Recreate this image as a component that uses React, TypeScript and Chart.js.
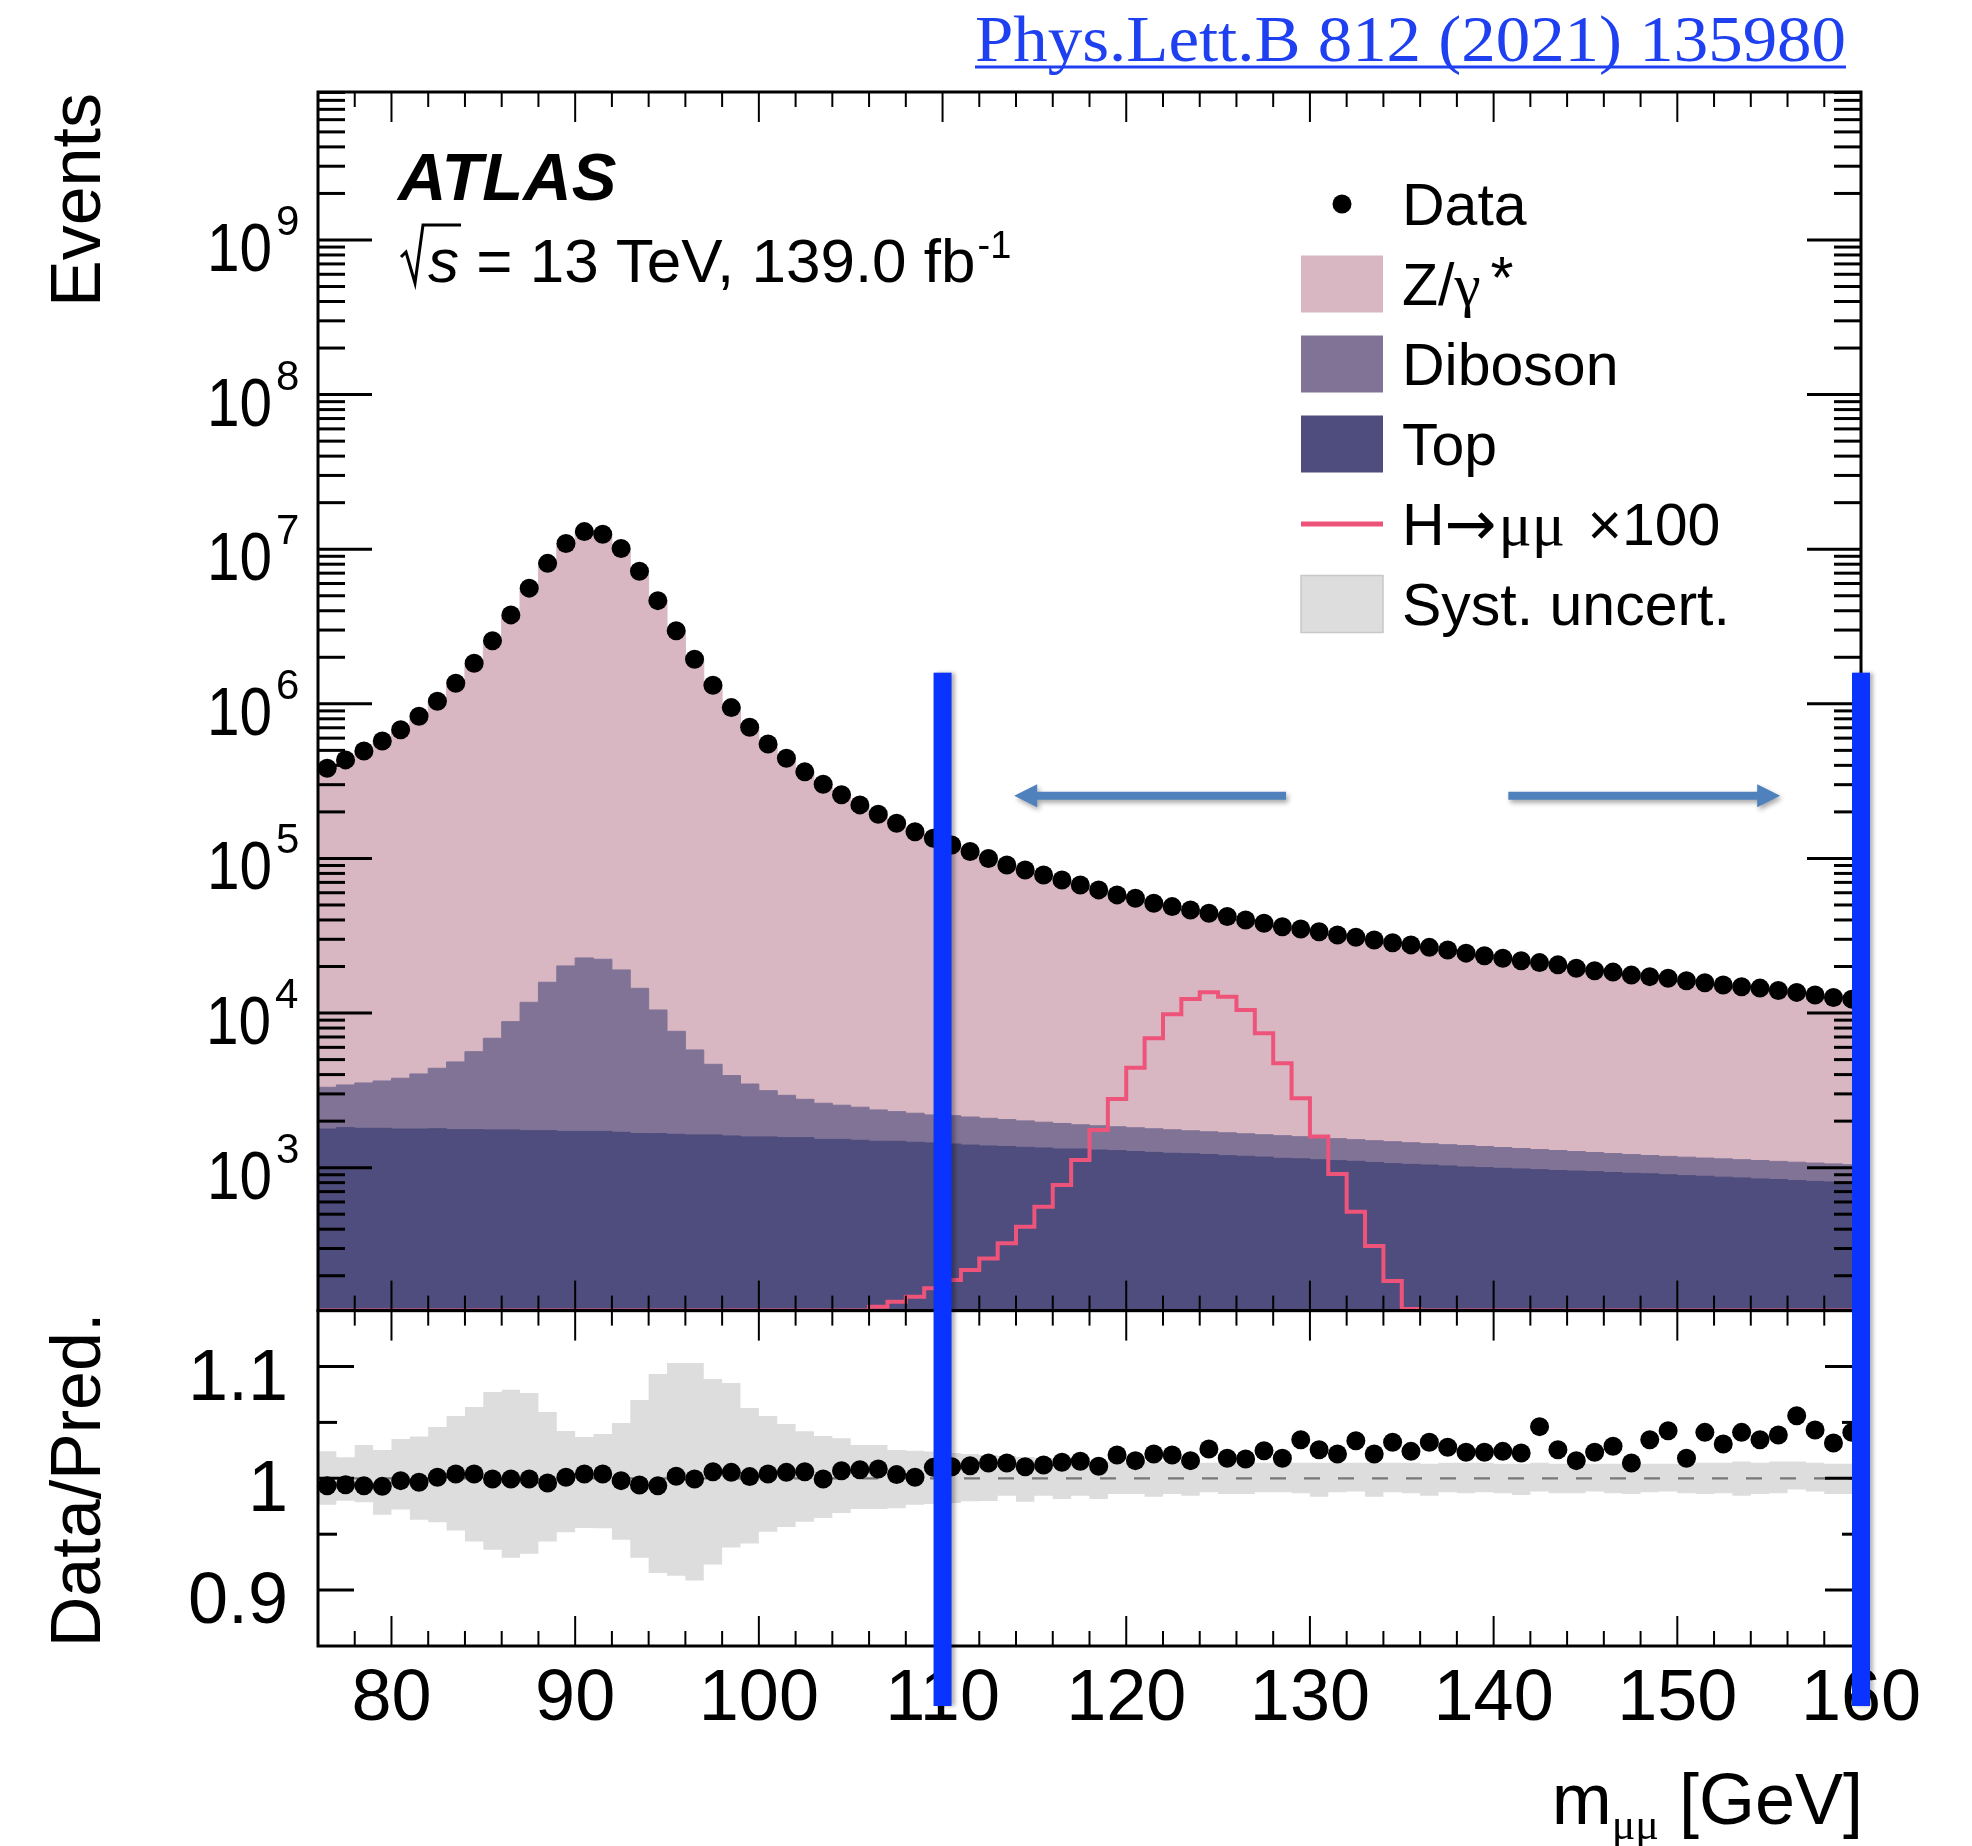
import React, { useEffect, useRef } from "react";
import { Chart, registerables } from "chart.js";

Chart.register(...registerables);

// ---------------- data ----------------
const binLow = [76, 77, 78, 79, 80, 81, 82, 83, 84, 85, 86, 87, 88, 89, 90, 91, 92, 93, 94, 95, 96, 97, 98, 99, 100, 101, 102, 103, 104, 105, 106, 107, 108, 109, 110, 111, 112, 113, 114, 115, 116, 117, 118, 119, 120, 121, 122, 123, 124, 125, 126, 127, 128, 129, 130, 131, 132, 133, 134, 135, 136, 137, 138, 139, 140, 141, 142, 143, 144, 145, 146, 147, 148, 149, 150, 151, 152, 153, 154, 155, 156, 157, 158, 159];
const BIN_WIDTH = 1;

const dataEvents = [383000, 434000, 495000, 575000, 680000, 830000, 1040000, 1360000, 1830000, 2560000, 3760000, 5600000, 8100000, 10900000, 13000000, 12500000, 10100000, 7200000, 4650000, 2970000, 1940000, 1320000, 945000, 706000, 550000, 445000, 363000, 302000, 258000, 222000, 193000, 169000, 149000, 135000, 122000, 111000, 100000, 90800, 84300, 78200, 72600, 67400, 62600, 58100, 55300, 51300, 48800, 46400, 44200, 42100, 40000, 38100, 36200, 35000, 33600, 32000, 30900, 29700, 28500, 27600, 26600, 25600, 24400, 23500, 22600, 21800, 21200, 20500, 19500, 18800, 18400, 17600, 17200, 16800, 16200, 15700, 15200, 14800, 14500, 14000, 13600, 13100, 12600, 12300];

const zgamma = [382000, 433000, 495000, 576000, 678000, 829000, 1035000, 1350000, 1817000, 2555000, 3753000, 5592000, 8118000, 10870000, 12928000, 12430000, 10102000, 7229000, 4670000, 2957000, 1935000, 1308000, 936100, 701500, 544800, 439700, 358100, 299600, 253700, 217800, 189000, 166100, 146600, 131500, 118600, 107600, 96560, 87530, 81430, 75310, 69650, 64500, 60070, 55080, 52630, 48430, 46050, 43950, 41370, 39680, 37660, 35550, 33950, 32250, 31200, 29780, 28380, 27580, 26140, 25500, 24340, 23500, 22450, 21600, 20720, 19990, 18960, 18700, 17930, 17120, 16660, 16150, 15430, 14930, 14750, 13930, 13610, 13090, 12900, 12380, 11790, 11490, 11160, 10770];

const diboson = [1533, 1613, 1734, 1840, 2010, 2262, 2608, 3067, 3864, 5116, 7045, 10005, 14085, 18452, 21002, 20562, 17317, 12800, 8810, 5979, 4144, 3035, 2336, 1895, 1568, 1374, 1204, 1086, 1011, 958, 880, 821, 789, 749, 746, 727, 705, 676, 653, 629, 610, 573, 566, 550, 541, 529, 519, 502, 491, 485, 471, 462, 461, 446, 438, 430, 418, 414, 411, 400, 389, 382, 380, 369, 359, 348, 339, 332, 321, 310, 303, 295, 286, 283, 281, 274, 272, 268, 267, 260, 259, 256, 250, 245];

const topQuark = [1778, 1815, 1797, 1797, 1778, 1778, 1786, 1762, 1762, 1754, 1754, 1735, 1735, 1718, 1718, 1718, 1693, 1660, 1660, 1643, 1628, 1628, 1603, 1580, 1580, 1564, 1564, 1524, 1524, 1503, 1482, 1482, 1460, 1445, 1422, 1400, 1381, 1370, 1354, 1340, 1321, 1321, 1300, 1288, 1270, 1255, 1239, 1230, 1215, 1196, 1185, 1170, 1149, 1140, 1125, 1110, 1099, 1080, 1061, 1050, 1040, 1026, 1010, 1000, 990, 981, 970, 958, 950, 942, 930, 920, 912, 900, 888, 880, 868, 858, 845, 838, 826, 815, 808, 800];

// H->mumu x100 ; 0 = below the plotted range
const higgsX100 = [0, 0, 0, 0, 0, 0, 0, 0, 0, 0, 0, 0, 0, 0, 0, 0, 0, 0, 0, 0, 0, 0, 0, 0, 0, 0, 0, 0, 0, 118, 126, 136, 146, 166, 188, 218, 259, 324, 415, 559, 773, 1122, 1754, 2782, 4433, 6875, 9820, 12330, 13640, 12770, 10470, 7396, 4733, 2811, 1588, 910, 519, 312, 185, 122, 0, 0, 0, 0, 0, 0, 0, 0, 0, 0, 0, 0, 0, 0, 0, 0, 0, 0, 0, 0, 0, 0, 0, 0];

const ratio = [0.9934, 0.9943, 0.9934, 0.9928, 0.9979, 0.9964, 1.0009, 1.0038, 1.0038, 0.9994, 0.9994, 0.9994, 0.9958, 1.0009, 1.0038, 1.0038, 0.9979, 0.994, 0.9934, 1.0018, 0.9994, 1.0059, 1.0053, 1.0015, 1.0038, 1.0053, 1.0059, 0.9994, 1.0068, 1.0077, 1.0083, 1.0033, 1.0009, 1.0098, 1.0104, 1.0113, 1.0137, 1.0137, 1.0104, 1.0119, 1.0143, 1.0152, 1.0107, 1.0208, 1.0158, 1.0217, 1.0208, 1.0158, 1.0262, 1.0179, 1.0173, 1.0247, 1.0179, 1.0345, 1.0256, 1.0217, 1.0336, 1.0217, 1.0322, 1.0241, 1.0322, 1.0277, 1.0233, 1.0233, 1.0241, 1.0227, 1.0462, 1.0256, 1.0158, 1.0233, 1.0286, 1.0137, 1.0345, 1.0426, 1.0179, 1.0411, 1.0307, 1.0411, 1.0345, 1.0387, 1.056, 1.0432, 1.0316, 1.0411];

const systUp = [0.0242, 0.0188, 0.0298, 0.0253, 0.0352, 0.0373, 0.0459, 0.0558, 0.0638, 0.0772, 0.0793, 0.0763, 0.0593, 0.0423, 0.037, 0.0397, 0.0495, 0.0701, 0.0933, 0.1032, 0.1032, 0.0888, 0.0853, 0.0629, 0.0558, 0.0486, 0.042, 0.0379, 0.0358, 0.0298, 0.0298, 0.0253, 0.0247, 0.0239, 0.0227, 0.0218, 0.0209, 0.02, 0.019, 0.018, 0.017, 0.017, 0.016, 0.015, 0.015, 0.015, 0.015, 0.015, 0.014, 0.014, 0.014, 0.014, 0.014, 0.014, 0.014, 0.014, 0.014, 0.014, 0.014, 0.014, 0.013, 0.014, 0.014, 0.014, 0.013, 0.013, 0.014, 0.013, 0.013, 0.013, 0.013, 0.014, 0.013, 0.013, 0.013, 0.014, 0.014, 0.015, 0.014, 0.015, 0.015, 0.014, 0.013, 0.013];

const systDown = [0.0236, 0.02, 0.0215, 0.0325, 0.028, 0.037, 0.0394, 0.0468, 0.0566, 0.0638, 0.071, 0.0674, 0.0566, 0.0483, 0.0444, 0.0447, 0.0549, 0.071, 0.0847, 0.0871, 0.0915, 0.0772, 0.062, 0.0584, 0.0477, 0.0435, 0.0388, 0.0355, 0.031, 0.0274, 0.0274, 0.0268, 0.0236, 0.023, 0.0221, 0.0206, 0.0203, 0.0155, 0.0209, 0.0155, 0.0185, 0.0155, 0.0185, 0.014, 0.014, 0.0164, 0.014, 0.0155, 0.0125, 0.014, 0.014, 0.0125, 0.0125, 0.0134, 0.0164, 0.0125, 0.0119, 0.0164, 0.0125, 0.0134, 0.0155, 0.0125, 0.0134, 0.0125, 0.0134, 0.0149, 0.0119, 0.0134, 0.0134, 0.0119, 0.0134, 0.014, 0.0125, 0.0119, 0.0134, 0.014, 0.0134, 0.0155, 0.014, 0.0134, 0.0101, 0.0119, 0.014, 0.014];

const xTickValues = [80, 90, 100, 110, 120, 130, 140, 150, 160];
const xTickLabels = ["80", "90", "100", "110", "120", "130", "140", "150", "160"];
const yDecadeExponents = [3, 4, 5, 6, 7, 8, 9];
const ratioMajorTicks = [0.9, 1, 1.1];
const ratioTickLabels = ["0.9", "1", "1.1"];
const ratioMinorTicks = [0.95, 1.05];

const cutValues = [110, 160];
const CUT_TOP = 1.59e6;
const arrowLeft = [128.7, 113.9];
const arrowRight = [140.8, 155.6];
const ARROW_Y = 2.54e5;

// axis ranges
const X_MIN = 76, X_MAX = 160;
const Y_MIN = 119, Y_MAX = 9.06e9;
const R_MIN = 0.85, R_MAX = 1.15;

// ---------------- layout / style ----------------
const W = 1972, H = 1846;
const FRAME_L = 318, FRAME_R = 1861, FRAME_T = 92, SPLIT = 1310.6, FRAME_B = 1646;
const SANS = "'Liberation Sans', Arial, Helvetica, sans-serif";
const SERIF = "'Liberation Serif', 'DejaVu Serif', 'Times New Roman', serif";
const COL_Z = "#d8b7c3";
const COL_DIB = "#817396";
const COL_TOP = "#4e4d7d";
const COL_H = "#ee547a";
const COL_SYST = "#dddddd";
const COL_CUT = "#0a33ff";
const COL_ARROW = "#4f81bd";

function stepPoints(vals: number[], floor = 0) {
  const pts = vals.map((v, i) => ({ x: binLow[i], y: Math.max(v, floor) }));
  const last = vals.length - 1;
  pts.push({ x: binLow[last] + BIN_WIDTH, y: Math.max(vals[last], floor) });
  return pts;
}

function line(ctx: CanvasRenderingContext2D, x1: number, y1: number, x2: number, y2: number) {
  ctx.beginPath();
  ctx.moveTo(x1, y1);
  ctx.lineTo(x2, y2);
  ctx.stroke();
}

function drawArrow(ctx: CanvasRenderingContext2D, xTail: number, xTip: number, y: number) {
  const dir = Math.sign(xTip - xTail);
  const headLen = 23, headHalf = 11.5, shaftHalf = 4;
  const xBase = xTip - dir * headLen;
  ctx.save();
  ctx.shadowColor = "rgba(0,0,0,0.35)";
  ctx.shadowBlur = 5;
  ctx.shadowOffsetX = 2;
  ctx.shadowOffsetY = 3;
  ctx.fillStyle = COL_ARROW;
  ctx.beginPath();
  ctx.moveTo(xTail, y - shaftHalf);
  ctx.lineTo(xBase, y - shaftHalf);
  ctx.lineTo(xBase, y - headHalf);
  ctx.lineTo(xTip, y);
  ctx.lineTo(xBase, y + headHalf);
  ctx.lineTo(xBase, y + shaftHalf);
  ctx.lineTo(xTail, y + shaftHalf);
  ctx.closePath();
  ctx.fill();
  ctx.restore();
}

function drawXTicks(ctx: CanvasRenderingContext2D, xs: any, t: number, b: number) {
  ctx.strokeStyle = "#000";
  ctx.lineWidth = 2;
  for (let v = X_MIN + 2; v < X_MAX; v += 2) {
    const p = xs.getPixelForValue(v);
    const len = v % 10 === 0 ? 30 : 15;
    line(ctx, p, t, p, t + len);
    line(ctx, p, b, p, b - len);
  }
}

const mainDecor = {
  id: "mainDecor",
  afterDraw(chart: any) {
    const ctx: CanvasRenderingContext2D = chart.ctx;
    const { left, right, top, bottom } = chart.chartArea;
    const xs = chart.scales.x, ys = chart.scales.y;
    ctx.save();

    // arrows (annotation)
    const ay = ys.getPixelForValue(ARROW_Y);
    drawArrow(ctx, xs.getPixelForValue(arrowLeft[0]), xs.getPixelForValue(arrowLeft[1]), ay);
    drawArrow(ctx, xs.getPixelForValue(arrowRight[0]), xs.getPixelForValue(arrowRight[1]), ay);

    // frame
    ctx.strokeStyle = "#000";
    ctx.lineWidth = 3;
    ctx.strokeRect(left, top, right - left, bottom - top);

    // y ticks (log)
    ctx.lineWidth = 3;
    for (let k = 2; k <= 9; k++) {
      for (let m = 1; m <= 9; m++) {
        const v = m * Math.pow(10, k);
        if (v < Y_MIN || v > Y_MAX) continue;
        const p = ys.getPixelForValue(v);
        const len = m === 1 ? 54 : 27;
        line(ctx, left, p, left + len, p);
        line(ctx, right, p, right - len, p);
      }
    }
    drawXTicks(ctx, xs, top, bottom);

    // y labels 10^k
    ctx.fillStyle = "#000";
    ctx.textAlign = "left";
    ctx.textBaseline = "alphabetic";
    for (const k of yDecadeExponents) {
      const p = ys.getPixelForValue(Math.pow(10, k));
      const expStr = String(k);
      ctx.font = `42px ${SANS}`;
      const em = ctx.measureText(expStr);
      const expX = left - 20 - em.actualBoundingBoxRight;
      ctx.fillText(expStr, expX, p - 5);
      ctx.font = `68px ${SANS}`;
      const bm = ctx.measureText("10");
      const sx = 0.86;
      ctx.save();
      ctx.translate(expX - 4 - bm.width * sx, p + 31);
      ctx.scale(sx, 1);
      ctx.fillText("10", 0, 0);
      ctx.restore();
    }

    // y title
    ctx.save();
    ctx.translate(100, top + 1);
    ctx.rotate(-Math.PI / 2);
    ctx.textAlign = "right";
    ctx.font = `70px ${SANS}`;
    ctx.fillText("Events", 0, 0);
    ctx.restore();

    // journal reference
    ctx.save();
    const jtxt = "Phys.Lett.B 812 (2021) 135980";
    ctx.font = `65px ${SERIF}`;
    ctx.fillStyle = "#1e40f0";
    const jw = ctx.measureText(jtxt).width;
    const jTargetW = 871;
    ctx.translate(975, 60.5);
    ctx.scale(jTargetW / jw, 1);
    ctx.fillText(jtxt, 0, 0);
    ctx.restore();
    ctx.fillStyle = "#1e40f0";
    ctx.fillRect(975, 65.5, 871, 3);

    // ATLAS label
    ctx.fillStyle = "#000";
    ctx.textAlign = "left";
    ctx.font = `italic bold 67px ${SANS}`;
    ctx.fillText("ATLAS", 398, 200);

    // sqrt(s) line
    ctx.lineWidth = 3;
    ctx.strokeStyle = "#000";
    ctx.beginPath();
    ctx.moveTo(401, 257);
    ctx.lineTo(406, 252);
    ctx.lineTo(415, 283);
    ctx.lineTo(423, 225);
    ctx.lineTo(461, 225);
    ctx.stroke();
    ctx.font = `italic 62px ${SANS}`;
    ctx.fillText("s", 428, 282);
    let cx = 428 + ctx.measureText("s").width;
    ctx.font = `62px ${SANS}`;
    const lumi = " = 13 TeV, 139.0 fb";
    ctx.fillText(lumi, cx, 282);
    cx += ctx.measureText(lumi).width + 2;
    ctx.font = `38px ${SANS}`;
    ctx.fillText("-1", cx, 258);

    // legend
    const LX = 1301, LW = 82, LH = 57, TX = 1402;
    const rowY = (i: number) => 204 + 80 * i;
    ctx.font = `59px ${SANS}`;
    // Data
    ctx.beginPath();
    ctx.arc(LX + LW / 2, rowY(0), 9.5, 0, Math.PI * 2);
    ctx.fill();
    ctx.fillText("Data", TX, rowY(0) + 21);
    // Z/gamma*
    ctx.fillStyle = COL_Z;
    ctx.fillRect(LX, rowY(1) - LH / 2, LW, LH);
    ctx.fillStyle = "#000";
    ctx.font = `59px ${SANS}`;
    ctx.fillText("Z/", TX, rowY(1) + 21);
    let zx = TX + ctx.measureText("Z/").width;
    ctx.font = `59px ${SERIF}`;
    ctx.fillText("\u03b3", zx, rowY(1) + 21);
    zx += ctx.measureText("\u03b3").width + 10;
    ctx.font = `59px ${SANS}`;
    ctx.fillText("*", zx, rowY(1) + 14);
    // Diboson
    ctx.fillStyle = COL_DIB;
    ctx.fillRect(LX, rowY(2) - LH / 2, LW, LH);
    ctx.fillStyle = "#000";
    ctx.fillText("Diboson", TX, rowY(2) + 21);
    // Top
    ctx.fillStyle = COL_TOP;
    ctx.fillRect(LX, rowY(3) - LH / 2, LW, LH);
    ctx.fillStyle = "#000";
    ctx.fillText("Top", TX, rowY(3) + 21);
    // H->mumu
    ctx.fillStyle = COL_H;
    ctx.fillRect(LX, rowY(4) - 2.5, LW, 5);
    ctx.fillStyle = "#000";
    ctx.font = `59px ${SANS}`;
    ctx.fillText("H", TX, rowY(4) + 21);
    let hx = TX + ctx.measureText("H").width;
    ctx.font = `62px 'DejaVu Sans', sans-serif`;
    ctx.fillText("\u2192", hx, rowY(4) + 21);
    hx += ctx.measureText("\u2192").width + 2;
    ctx.font = `62px ${SERIF}`;
    ctx.fillText("\u03bc\u03bc", hx, rowY(4) + 21);
    hx += ctx.measureText("\u03bc\u03bc").width;
    ctx.font = `59px ${SANS}`;
    ctx.fillText(" \u00d7100", hx + 6, rowY(4) + 21);
    // Syst
    ctx.fillStyle = COL_SYST;
    ctx.fillRect(LX, rowY(5) - LH / 2, LW, LH);
    ctx.strokeStyle = "#c8c8c8";
    ctx.lineWidth = 1.5;
    ctx.strokeRect(LX, rowY(5) - LH / 2, LW, LH);
    ctx.fillStyle = "#000";
    ctx.fillText("Syst. uncert.", TX, rowY(5) + 21);

    ctx.restore();
  },
};

function makeRatioDecor(mainChart: any) {
  return {
    id: "ratioDecor",
    afterDraw(chart: any) {
      const ctx: CanvasRenderingContext2D = chart.ctx;
      const { left, right, top, bottom } = chart.chartArea;
      const xs = chart.scales.x, ys = chart.scales.y;
      ctx.save();
      ctx.strokeStyle = "#000";
      ctx.lineWidth = 3;
      ctx.strokeRect(left, top, right - left, bottom - top);
      // y ticks
      for (const v of ratioMajorTicks) {
        const p = ys.getPixelForValue(v);
        line(ctx, left, p, left + 36, p);
        line(ctx, right, p, right - 36, p);
      }
      for (const v of ratioMinorTicks) {
        const p = ys.getPixelForValue(v);
        line(ctx, left, p, left + 19, p);
        line(ctx, right, p, right - 19, p);
      }
      drawXTicks(ctx, xs, top, bottom);

      ctx.fillStyle = "#000";
      ctx.textBaseline = "alphabetic";
      // y labels
      ctx.font = `72px ${SANS}`;
      ctx.textAlign = "left";
      ratioMajorTicks.forEach((v, i) => {
        const p = ys.getPixelForValue(v);
        const m = ctx.measureText(ratioTickLabels[i]);
        ctx.fillText(ratioTickLabels[i], left - 33 - m.actualBoundingBoxRight, p + 33);
      });
      // x labels
      ctx.textAlign = "center";
      xTickValues.forEach((v, i) => {
        ctx.fillText(xTickLabels[i], xs.getPixelForValue(v), bottom + 74);
      });
      // x title  m_{mumu} [GeV]
      ctx.textAlign = "left";
      const baseY = bottom + 178;
      ctx.font = `72px ${SANS}`;
      const wM = ctx.measureText("m").width;
      const wG = ctx.measureText(" [GeV]").width;
      ctx.font = `44px ${SERIF}`;
      const wS = ctx.measureText("\u03bc\u03bc").width;
      let x0 = right + 2 - wM - wS - wG;
      ctx.font = `72px ${SANS}`;
      ctx.fillText("m", x0, baseY);
      x0 += wM;
      ctx.font = `44px ${SERIF}`;
      ctx.fillText("\u03bc\u03bc", x0, baseY + 15);
      x0 += wS;
      ctx.font = `72px ${SANS}`;
      ctx.fillText(" [GeV]", x0, baseY);
      // y title
      ctx.save();
      ctx.translate(100, top + 2);
      ctx.rotate(-Math.PI / 2);
      ctx.textAlign = "right";
      ctx.font = `70px ${SANS}`;
      ctx.fillText("Data/Pred.", 0, 0);
      ctx.restore();

      // blue cut lines (annotation, on top of everything)
      const yTop = mainChart.scales.y.getPixelForValue(CUT_TOP);
      const yBot = bottom + 60;
      ctx.shadowColor = "rgba(0,0,0,0.3)";
      ctx.shadowBlur = 4;
      ctx.shadowOffsetX = 3;
      ctx.shadowOffsetY = 0;
      ctx.fillStyle = COL_CUT;
      for (const v of cutValues) {
        const x = xs.getPixelForValue(v);
        ctx.fillRect(x - 9, yTop, 18, yBot - yTop);
      }
      ctx.restore();
    },
  };
}

const baseOptions = (padding: any, yScale: any) => ({
  responsive: false,
  maintainAspectRatio: false,
  animation: false as const,
  devicePixelRatio: 1,
  events: [] as any[],
  layout: { padding },
  plugins: { legend: { display: false }, tooltip: { enabled: false } },
  scales: {
    x: { type: "linear", min: X_MIN, max: X_MAX, display: false },
    y: yScale,
  },
});

export default function App() {
  const mainRef = useRef<HTMLCanvasElement>(null);
  const ratioRef = useRef<HTMLCanvasElement>(null);

  useEffect(() => {
    const cumDib = diboson.map((v, i) => v + topQuark[i]);
    const cumZ = zgamma.map((v, i) => v + diboson[i] + topQuark[i]);
    // value of each left bin edge holds until the next edge
    const stepCommon = { stepped: "before", pointRadius: 0, tension: 0, borderWidth: 1 };

    const mainChart = new Chart(mainRef.current as HTMLCanvasElement, {
      type: "line",
      data: {
        datasets: [
          {
            label: "Data",
            data: binLow.map((b, i) => ({ x: b + BIN_WIDTH / 2, y: dataEvents[i] })),
            showLine: false,
            pointRadius: 9.5,
            pointBackgroundColor: "#000",
            pointBorderWidth: 0,
            borderColor: "#000",
          },
          {
            label: "H->mumu x100",
            data: stepPoints(higgsX100, Y_MIN),
            ...stepCommon,
            borderWidth: 4,
            borderColor: COL_H,
            fill: false,
          },
          {
            label: "Top",
            data: stepPoints(topQuark),
            ...stepCommon,
            borderColor: COL_TOP,
            backgroundColor: COL_TOP,
            fill: "start",
          },
          {
            label: "Diboson",
            data: stepPoints(cumDib),
            ...stepCommon,
            borderColor: COL_DIB,
            backgroundColor: COL_DIB,
            fill: "start",
          },
          {
            label: "Z/gamma*",
            data: stepPoints(cumZ),
            ...stepCommon,
            borderColor: COL_Z,
            backgroundColor: COL_Z,
            fill: "start",
          },
        ],
      } as any,
      options: baseOptions(
        { left: FRAME_L, right: W - FRAME_R, top: FRAME_T, bottom: H - SPLIT },
        { type: "logarithmic", min: Y_MIN, max: Y_MAX, display: false }
      ) as any,
      plugins: [mainDecor],
    });

    const ratioChart = new Chart(ratioRef.current as HTMLCanvasElement, {
      type: "line",
      data: {
        datasets: [
          {
            label: "Data/Pred",
            data: binLow.map((b, i) => ({ x: b + BIN_WIDTH / 2, y: ratio[i] })),
            showLine: false,
            pointRadius: 9.5,
            pointBackgroundColor: "#000",
            pointBorderWidth: 0,
            borderColor: "#000",
          },
          {
            label: "unity",
            data: [
              { x: X_MIN, y: 1 },
              { x: X_MAX, y: 1 },
            ],
            pointRadius: 0,
            borderColor: "#777777",
            borderWidth: 2.3,
            borderDash: [16, 18],
            fill: false,
          },
          {
            label: "syst up",
            data: stepPoints(systUp.map((u) => 1 + u)),
            ...stepCommon,
            borderWidth: 0,
            borderColor: COL_SYST,
            backgroundColor: COL_SYST,
            fill: "+1",
          },
          {
            label: "syst down",
            data: stepPoints(systDown.map((d) => 1 - d)),
            ...stepCommon,
            borderWidth: 0,
            borderColor: COL_SYST,
            backgroundColor: COL_SYST,
            fill: false,
          },
        ],
      } as any,
      options: baseOptions(
        { left: FRAME_L, right: W - FRAME_R, top: SPLIT, bottom: H - FRAME_B },
        { type: "linear", min: R_MIN, max: R_MAX, display: false }
      ) as any,
      plugins: [makeRatioDecor(mainChart)],
    });

    return () => {
      ratioChart.destroy();
      mainChart.destroy();
    };
  }, []);

  const cstyle: React.CSSProperties = { position: "absolute", left: 0, top: 0, width: W, height: H };
  return (
    <div style={{ position: "fixed", left: 0, top: 0, width: W, height: H, background: "#fff", overflow: "hidden" }}>
      <canvas ref={mainRef} width={W} height={H} style={cstyle} />
      <canvas ref={ratioRef} width={W} height={H} style={cstyle} />
    </div>
  );
}
